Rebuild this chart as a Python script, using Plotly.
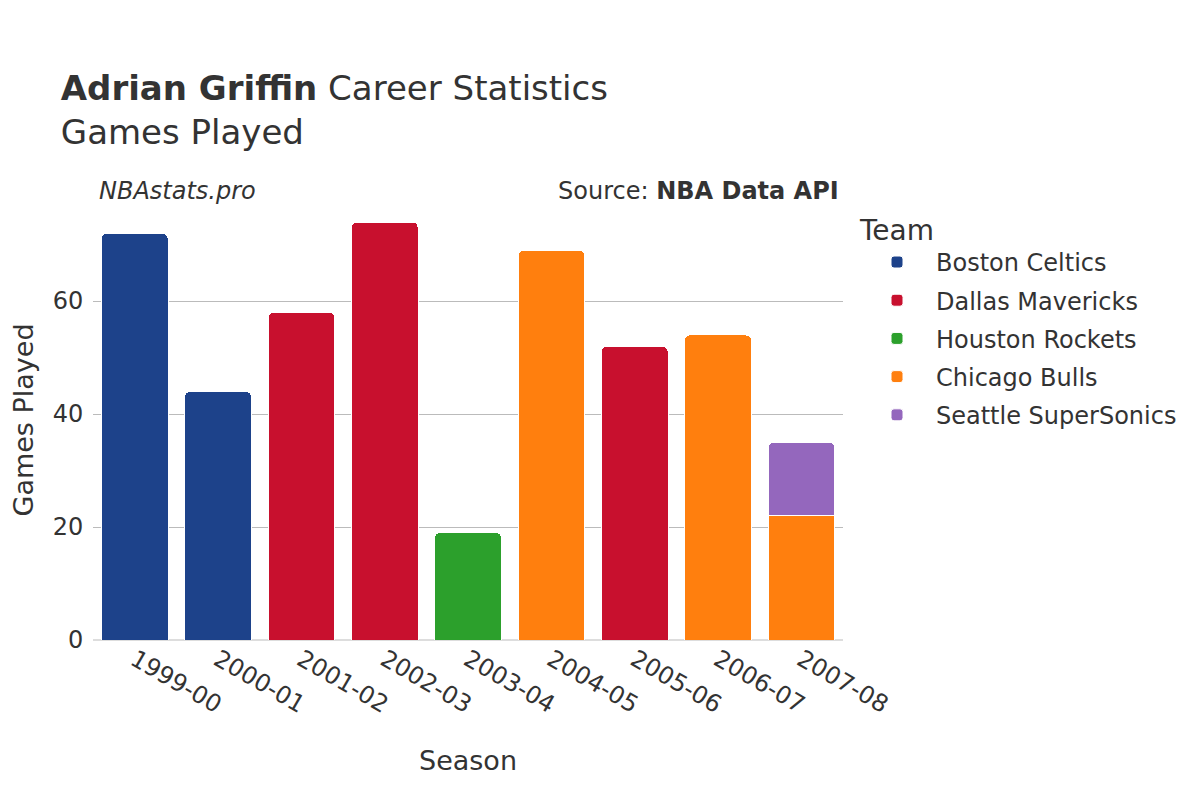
import plotly.graph_objects as go

seasons = ["1999-00", "2000-01", "2001-02", "2002-03", "2003-04", "2004-05", "2005-06", "2006-07", "2007-08"]
teams = ["Boston Celtics", "Dallas Mavericks", "Houston Rockets", "Chicago Bulls", "Seattle SuperSonics"]
colors = ["#1D428A", "#C8102E", "#2CA02C", "#FF7F0E", "#9467BD"]
games = {
    "Boston Celtics":      [72, 44, None, None, None, None, None, None, None],
    "Dallas Mavericks":    [None, None, 58, 74, None, None, 52, None, None],
    "Houston Rockets":     [None, None, None, None, 19, None, None, None, None],
    "Chicago Bulls":       [None, None, None, None, None, 69, None, 54, 22],
    "Seattle SuperSonics": [None, None, None, None, None, None, None, None, 13],
}

fig = go.Figure()
for team, color in zip(teams, colors):
    fig.add_trace(go.Bar(
        x=seasons, y=games[team], name=team, legendgroup=team,
        marker=dict(color=color, line=dict(color="white", width=1)),
    ))

font = "DejaVu Sans"
fig.update_layout(
    barmode="stack",
    bargap=0.2,
    barcornerradius=5,
    width=1200, height=800,
    paper_bgcolor="white", plot_bgcolor="white",
    font=dict(family=font, color="#333333", size=20),
    margin=dict(l=85, r=365, t=192, b=168),
    title=dict(
        text="<b>Adrian Griffin</b> Career Statistics<br>Games Played",
        x=0.044, xanchor="left", y=0.885, yanchor="middle",
        font=dict(size=34, color="#333333"),
    ),
    xaxis=dict(
        type="category",
        title=dict(text="Season", font=dict(size=27), standoff=33),
        tickangle=30, tickfont=dict(size=24),
        showgrid=False,
    ),
    yaxis=dict(
        title=dict(text="Games Played", font=dict(size=27), standoff=40),
        automargin=False,
        tickfont=dict(size=24), dtick=20,
        ticks="outside", ticklen=4, tickcolor="rgba(0,0,0,0)",
        showgrid=True, gridcolor="#BBBBBB", gridwidth=1,
        zeroline=True, zerolinecolor="#DDDDDD", zerolinewidth=2,
    ),
    legend=dict(
        title=dict(text="Team", font=dict(size=28)),
        font=dict(size=24),
        traceorder="grouped",
        itemwidth=68,
        x=1.02, y=0.992, xanchor="left", yanchor="top",
        tracegroupgap=4,
    ),
    annotations=[
        dict(text="<i>NBAstats.pro</i>", xref="paper", yref="paper",
             x=0.005, y=1.02, xanchor="left", yanchor="middle",
             showarrow=False, font=dict(size=24)),
        dict(text="Source: <b>NBA Data API</b>", xref="paper", yref="paper",
             x=0.997, y=1.02, xanchor="right", yanchor="middle",
             showarrow=False, font=dict(size=24)),
    ],
)

fig.write_html("out.html")
